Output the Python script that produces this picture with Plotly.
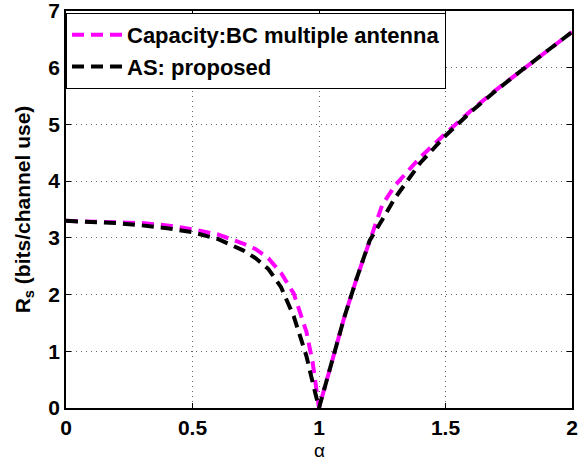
import plotly.graph_objects as go

alpha = [0, 0.1, 0.2, 0.3, 0.4, 0.5, 0.6, 0.7, 0.75, 0.8, 0.85, 0.9, 0.95, 0.975, 1.0,
         1.05, 1.1, 1.15, 1.2, 1.25, 1.3, 1.4, 1.5, 1.6, 1.7, 1.8, 1.9, 2.0]
capacity_bc = [3.30, 3.29, 3.28, 3.26, 3.22, 3.15, 3.06, 2.90, 2.80, 2.64, 2.38, 2.02, 1.35, 0.80, 0.0,
               0.80, 1.60, 2.30, 2.95, 3.58, 3.92, 4.42, 4.84, 5.24, 5.61, 5.95, 6.30, 6.63]
as_proposed = [3.30, 3.28, 3.26, 3.22, 3.17, 3.10, 2.98, 2.78, 2.64, 2.45, 2.13, 1.62, 0.92, 0.45, 0.0,
               0.80, 1.60, 2.30, 2.95, 3.32, 3.70, 4.32, 4.80, 5.22, 5.60, 5.95, 6.30, 6.63]
x_ticks = [0, 0.5, 1, 1.5, 2]
x_tick_labels = ["0", "0.5", "1", "1.5", "2"]
y_ticks = [0, 1, 2, 3, 4, 5, 6, 7]
x_title = "α"

fig = go.Figure()
fig.add_trace(go.Scatter(x=alpha, y=capacity_bc, mode="lines",
                         name="Capacity:BC multiple antenna",
                         line=dict(color="#ff00ff", width=4, dash="12px,7px")))
fig.add_trace(go.Scatter(x=alpha, y=as_proposed, mode="lines",
                         name="AS: proposed",
                         line=dict(color="black", width=4, dash="12px,7px")))

font_main = "Liberation Sans, Arial, sans-serif"
axis_common = dict(showline=True, linecolor="black", linewidth=1.5, mirror="ticks",
                   ticks="inside", ticklen=5, tickcolor="black", showgrid=True,
                   gridcolor="#666666", griddash="1px,4px", gridwidth=1, zeroline=False,
                   automargin=False, ticklabeloverflow="allow",
                   tickfont=dict(family=font_main, size=21, color="black", weight="bold"))

fig.update_layout(
    width=579, height=463,
    margin=dict(l=66, r=7, t=11, b=55),
    paper_bgcolor="white", plot_bgcolor="white",
    font=dict(family=font_main, color="black"),
    xaxis=dict(range=[0, 2], tickvals=x_ticks, ticktext=x_tick_labels, **axis_common),
    yaxis=dict(range=[0, 7], tickvals=y_ticks,
               title=dict(text="<b>R<sub>s</sub> (bits/channel use)</b>",
                          font=dict(family=font_main, size=21), standoff=12),
               **axis_common),
    legend=dict(x=0.0, y=0.995, xanchor="left", yanchor="top",
                bgcolor="white", bordercolor="black", borderwidth=1,
                font=dict(family=font_main, size=22, color="black", weight="bold"),
                itemwidth=50),
    showlegend=True,
    annotations=[dict(text=x_title, xref="paper", yref="paper", x=0.5, y=-0.138,
                      xanchor="center", yanchor="bottom", showarrow=False,
                      font=dict(family=font_main, size=19, color="black"))],
)

fig.write_html("out.html", config={"displayModeBar": False},
               post_script="document.body.style.margin='0';document.body.style.overflow='hidden';")
